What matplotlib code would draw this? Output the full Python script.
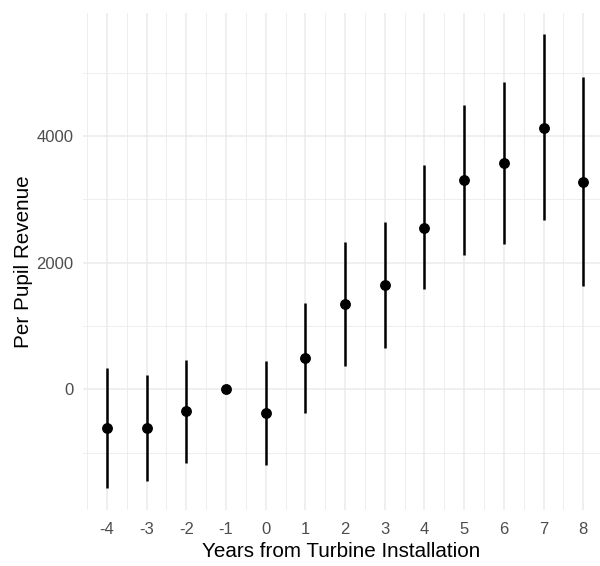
import numpy as np
import matplotlib.pyplot as plt
from matplotlib.ticker import MultipleLocator

plt.rcParams['font.family'] = ['Liberation Sans', 'DejaVu Sans']
plt.rcParams['axes.unicode_minus'] = False

# event-study estimates
years = [-4, -3, -2, -1, 0, 1, 2, 3, 4, 5, 6, 7, 8]
estimate = [-606, -606, -347, 0, -374, 494, 1352, 1647, 2552, 3305, 3574, 4131, 3278]
ci_low = [-1563, -1453, -1164, 0, -1195, -369, 373, 647, 1579, 2121, 2289, 2668, 1631]
ci_high = [331, 226, 463, 0, 452, 1358, 2321, 2637, 3542, 4489, 4857, 5605, 4926]

fig = plt.figure(figsize=(6.0, 5.66), dpi=100)
ax = fig.add_axes([83 / 600, 1 - 510 / 566, 1 - 83 / 600, (510 - 13) / 566])

grid_col = '#EBEBEB'
ax.xaxis.set_major_locator(MultipleLocator(1))
ax.xaxis.set_minor_locator(MultipleLocator(0.5))
ax.yaxis.set_major_locator(MultipleLocator(2000))
ax.yaxis.set_minor_locator(MultipleLocator(1000))
ax.grid(True, which='major', color=grid_col, linewidth=1.1)
ax.grid(True, which='minor', color=grid_col, linewidth=0.6)
ax.set_axisbelow(True)

# error bars only where the interval is non-degenerate
for x, lo, hi in zip(years, ci_low, ci_high):
    if hi > lo:
        ax.plot([x, x], [lo, hi], color='black', linewidth=1.8, solid_capstyle='butt')
ax.plot(years, estimate, 'o', color='black', markersize=6.8)

ax.set_xlim(-4.6, 8.42)
ax.set_ylim(-1906, 5943)

for s in ax.spines.values():
    s.set_visible(False)
ax.tick_params(which='both', length=0, labelsize=12, labelcolor='#4D4D4D')
ax.tick_params(axis='x', pad=9)
ax.tick_params(axis='y', pad=7)

ax.set_xlabel('Years from Turbine Installation', fontsize=14.9, color='black', labelpad=3)
ax.set_ylabel('Per Pupil Revenue', fontsize=14.9, color='black', labelpad=2)

fig.savefig('out.png', dpi=100)
